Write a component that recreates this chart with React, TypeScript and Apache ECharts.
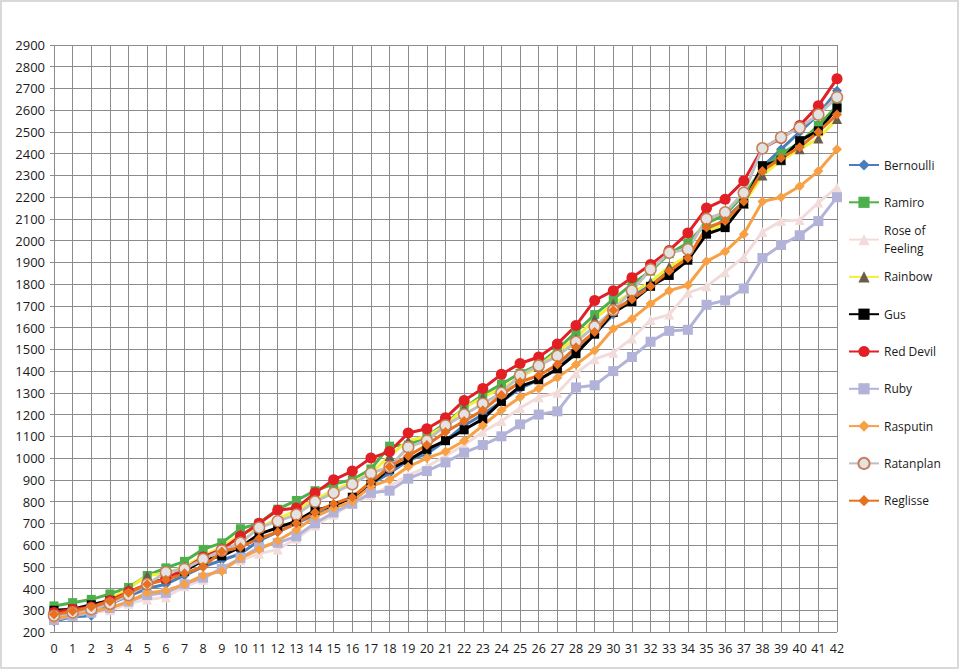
import React, { useEffect, useRef } from "react";
import * as echarts from "echarts";

const categories: string[] = Array.from({ length: 43 }, (_, i) => String(i));

const bernoulli = [250, 270, 275, 330, 365, 400, 420, 460, 500, 530, 560, 620, 660, 700, 740, 780, 820, 880, 930, 990, 1020, 1080, 1150, 1200, 1260, 1320, 1360, 1410, 1490, 1570, 1660, 1740, 1800, 1860, 1920, 2040, 2100, 2180, 2340, 2420, 2500, 2580, 2690];
const ramiro = [320, 335, 350, 375, 405, 460, 495, 525, 580, 610, 675, 700, 765, 805, 850, 880, 900, 950, 1055, 1060, 1100, 1160, 1230, 1290, 1340, 1390, 1430, 1500, 1580, 1660, 1730, 1800, 1860, 1940, 1990, 2080, 2120, 2210, 2330, 2400, 2450, 2530, 2620];
const roseOfFeeling = [270, 275, 290, 300, 330, 350, 360, 410, 440, 500, 530, 560, 580, 630, 690, 740, 790, 830, 870, 920, 960, 1010, 1060, 1120, 1170, 1230, 1280, 1300, 1390, 1455, 1485, 1550, 1635, 1660, 1760, 1790, 1855, 1925, 2040, 2090, 2095, 2175, 2245];
const rainbow = [290, 300, 320, 350, 400, 460, 470, 500, 550, 590, 650, 680, 720, 760, 810, 850, 890, 930, 1010, 1080, 1100, 1150, 1230, 1280, 1320, 1370, 1420, 1490, 1550, 1640, 1710, 1760, 1810, 1880, 1930, 2040, 2080, 2170, 2300, 2370, 2420, 2470, 2560];
const gus = [300, 305, 325, 345, 375, 420, 445, 480, 530, 550, 590, 650, 680, 710, 760, 780, 820, 880, 950, 990, 1040, 1080, 1130, 1180, 1260, 1330, 1360, 1410, 1480, 1570, 1670, 1720, 1790, 1840, 1910, 2030, 2060, 2170, 2345, 2370, 2460, 2505, 2610];
const redDevil = [290, 305, 315, 345, 385, 420, 445, 490, 545, 580, 640, 700, 760, 770, 840, 900, 940, 1000, 1030, 1115, 1135, 1185, 1265, 1320, 1385, 1435, 1465, 1525, 1610, 1725, 1770, 1830, 1890, 1955, 2035, 2150, 2190, 2275, 2425, 2470, 2530, 2620, 2745];
const ruby = [255, 275, 290, 310, 340, 370, 380, 420, 450, 490, 540, 590, 610, 640, 700, 750, 790, 840, 850, 905, 940, 980, 1025, 1060, 1100, 1155, 1200, 1215, 1325, 1335, 1400, 1465, 1535, 1585, 1590, 1705, 1725, 1780, 1920, 1980, 2025, 2090, 2200];
const rasputin = [260, 280, 295, 310, 340, 380, 390, 420, 460, 480, 540, 580, 620, 670, 730, 770, 800, 870, 900, 960, 1000, 1030, 1080, 1150, 1220, 1280, 1320, 1370, 1430, 1495, 1595, 1640, 1710, 1770, 1795, 1905, 1950, 2030, 2180, 2200, 2250, 2320, 2420];
const ratanplan = [275, 290, 305, 330, 370, 420, 475, 490, 535, 575, 610, 680, 710, 740, 800, 840, 880, 930, 960, 1050, 1080, 1150, 1200, 1250, 1300, 1380, 1425, 1470, 1535, 1605, 1680, 1770, 1868, 1945, 1960, 2100, 2130, 2220, 2425, 2475, 2520, 2580, 2660];
const reglisse = [280, 295, 315, 340, 380, 420, 440, 470, 500, 570, 590, 630, 660, 700, 750, 790, 820, 890, 960, 1010, 1060, 1120, 1170, 1220, 1290, 1350, 1380, 1430, 1510, 1580, 1680, 1730, 1790, 1860, 1920, 2060, 2090, 2180, 2320, 2380, 2430, 2500, 2580];

const seriesNames = ["Bernoulli", "Ramiro", "Rose of Feeling", "Rainbow", "Gus", "Red Devil", "Ruby", "Rasputin", "Ratanplan", "Reglisse"];
const seriesValues = [bernoulli, ramiro, roseOfFeeling, rainbow, gus, redDevil, ruby, rasputin, ratanplan, reglisse];

const FONT = "'Open Sans', 'Noto Sans', sans-serif";
const GRID = "#8c8c8c";

type Style = { line: string; symbol: string; size: number; fill: string; border?: string };
const styles: Style[] = [
  { line: "#4a7ebb", symbol: "diamond", size: 10, fill: "#4a7ebb" },
  { line: "#4db04a", symbol: "rect", size: 9, fill: "#4db04a" },
  { line: "#f2dcdb", symbol: "triangle", size: 10, fill: "#f2dcdb" },
  { line: "#f2ef3c", symbol: "triangle", size: 10, fill: "#6b5b4e" },
  { line: "#000000", symbol: "rect", size: 9, fill: "#000000" },
  { line: "#e31f26", symbol: "circle", size: 11, fill: "#e31f26" },
  { line: "#b3b3d9", symbol: "rect", size: 10, fill: "#b3b3d9" },
  { line: "#f7a045", symbol: "diamond", size: 10, fill: "#f7a045" },
  { line: "#bfbfbf", symbol: "circle", size: 11, fill: "#e3e3e3", border: "#c87f55" },
  { line: "#e8711f", symbol: "diamond", size: 10, fill: "#e8711f" },
];

const legendCenters = [165, 202.3, 239.6, 276.9, 314.2, 351.5, 388.8, 426.1, 463.4, 500.7];

export default function App() {
  const ref = useRef<HTMLDivElement>(null);
  useEffect(() => {
    document.body.style.margin = "0";
    if (!ref.current) return;
    const chart = echarts.init(ref.current, undefined, { renderer: "svg" });

    const series: any[] = seriesNames.map((name, i) => {
      const s = styles[i];
      const obj: any = {
        name,
        type: "line",
        data: seriesValues[i],
        symbol: s.symbol,
        symbolSize: s.size,
        showAllSymbol: true,
        lineStyle: { color: s.line, width: 3 },
        itemStyle: {
          color: s.fill,
          borderColor: s.border || s.fill,
          borderWidth: s.border ? 1.5 : 0,
        },
        emphasis: { disabled: true },
      };
      if (i === 0) {
        obj.markLine = {
          silent: true,
          symbol: "none",
          label: { show: false },
          lineStyle: { color: GRID, type: "solid", width: 1 },
          data: [{ yAxis: 250 }],
          z: 1,
        };
      }
      return obj;
    });

    const legends: any[] = seriesNames.map((name, i) => {
      const isRose = name === "Rose of Feeling";
      return {
        data: [name],
        orient: "vertical",
        left: 848,
        top: isRose ? legendCenters[i] - 27 : legendCenters[i] - 7,
        padding: 0,
        itemWidth: 30,
        itemHeight: 14,
        selectedMode: false,
        formatter: (n: string) => (n === "Rose of Feeling" ? "Rose of\nFeeling" : n),
        textStyle: isRose
          ? { fontFamily: FONT, fontSize: 12, color: "#1a1a1a", lineHeight: 18, padding: [18, 0, 0, 0] }
          : { fontFamily: FONT, fontSize: 12, color: "#1a1a1a", lineHeight: 14 },
      };
    });

    chart.setOption({
      animation: false,
      backgroundColor: "#ffffff",
      grid: { left: 54, right: 123, top: 45, bottom: 39, containLabel: false },
      legend: legends,
      xAxis: {
        type: "category",
        data: categories,
        boundaryGap: false,
        axisLine: { show: false },
        axisTick: { show: false },
        axisLabel: { interval: 0, fontFamily: FONT, fontSize: 12.5, color: "#1a1a1a", margin: 10 },
        splitLine: { show: true, interval: 0, lineStyle: { color: GRID, width: 1 } },
      },
      yAxis: {
        type: "value",
        min: 200,
        max: 2900,
        interval: 100,
        axisLine: { show: false },
        axisTick: { show: true, length: 4, lineStyle: { color: GRID } },
        axisLabel: {
          fontFamily: FONT,
          fontSize: 13,
          color: "#1a1a1a",
          margin: 9,
          formatter: (v: number) => String(v),
        },
        splitLine: { show: true, lineStyle: { color: GRID, width: 1 } },
      },
      graphic: [
        {
          type: "rect",
          shape: { x: 1, y: 1, width: 957, height: 667 },
          style: { fill: "none", stroke: "#d9d9d9", lineWidth: 2 },
          silent: true,
        },
      ],
      series,
    });

    return () => chart.dispose();
  }, []);

  return <div ref={ref} style={{ position: "absolute", left: 0, top: 0, width: 960, height: 671 }} />;
}
